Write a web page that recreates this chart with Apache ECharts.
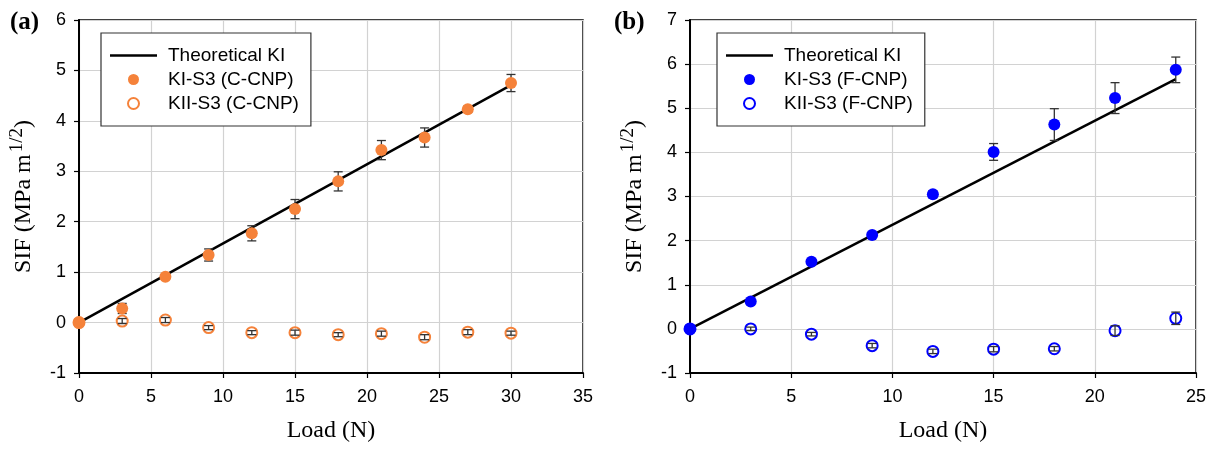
<!DOCTYPE html>
<html>
<head>
<meta charset="utf-8">
<script src="https://cdn.jsdelivr.net/npm/echarts@6/dist/echarts.min.js"></script>
<style>
html,body{margin:0;padding:0;background:#fff;}
#c{width:1219px;height:449px;}
</style>
</head>
<body>
<div id="c"></div>
<script>
// ---- data (panel a) ----
const loadA = [0, 3, 6, 9, 12, 15, 18, 21, 24, 27, 30];
const kiA = [0, 0.28, 0.91, 1.34, 1.77, 2.25, 2.80, 3.42, 3.67, 4.23, 4.75];
const kiAErr = [0, 0.10, 0.05, 0.12, 0.15, 0.19, 0.19, 0.19, 0.19, 0.06, 0.17];
const kiiA = [0, 0.03, 0.05, -0.10, -0.20, -0.20, -0.24, -0.22, -0.29, -0.19, -0.21];
const kiiAErr = [0, 0.05, 0.05, 0.04, 0.04, 0.05, 0.04, 0.05, 0.05, 0.05, 0.04];
const theoryAx = [0, 30];
const theoryAy = [0, 4.71];
// ---- data (panel b) ----
const loadB = [0, 3, 6, 9, 12, 15, 18, 21, 24];
const kiB = [0, 0.62, 1.52, 2.13, 3.05, 4.01, 4.63, 5.23, 5.87];
const kiBErr = [0, 0.05, 0.05, 0.05, 0.08, 0.19, 0.36, 0.35, 0.29];
const kiiB = [0, 0.00, -0.12, -0.38, -0.51, -0.46, -0.45, -0.04, 0.24];
const kiiBErr = [0, 0.04, 0.04, 0.05, 0.05, 0.06, 0.05, 0.11, 0.14];
const theoryBx = [0, 24];
const theoryBy = [0, 5.66];
// ---- labels ----
const xName = 'Load (N)';
const legendA = ['Theoretical KI', 'KI-S3 (C-CNP)', 'KII-S3 (C-CNP)'];
const legendB = ['Theoretical KI', 'KI-S3 (F-CNP)', 'KII-S3 (F-CNP)'];
const panelLabels = ['(a)', '(b)'];

const ORANGE = '#F5823A';
const BLUE = '#0000FF';
const SANS = 'Liberation Sans, Arial, sans-serif';
const SERIF = 'Liberation Serif, Times New Roman, serif';

const zip2 = (xs, ys) => xs.map((x, i) => [x, ys[i]]);
const zip3 = (xs, ys, es) => xs.map((x, i) => [x, ys[i], es[i]]).filter(d => d[2] > 0);

function errRender(params, api) {
  const x = api.value(0), y = api.value(1), e = api.value(2);
  const t = api.coord([x, y + e]), b = api.coord([x, y - e]);
  const w = 4.5;
  const st = {stroke: '#333', lineWidth: 1.3};
  return {type: 'group', children: [
    {type: 'line', shape: {x1: t[0], y1: t[1], x2: b[0], y2: b[1]}, style: st},
    {type: 'line', shape: {x1: t[0] - w, y1: t[1], x2: t[0] + w, y2: t[1]}, style: st},
    {type: 'line', shape: {x1: b[0] - w, y1: b[1], x2: b[0] + w, y2: b[1]}, style: st}
  ]};
}

function xAxisCfg(gi, max) {
  return {
    gridIndex: gi, type: 'value', min: 0, max: max, interval: 5,
    name: xName, nameLocation: 'middle', nameGap: 46,
    nameTextStyle: {fontFamily: SERIF, fontSize: 24, color: '#000'},
    axisLine: {show: true, onZero: false, lineStyle: {color: '#000', width: 2}},
    axisTick: {show: true, length: 5, lineStyle: {color: '#000', width: 1.2}},
    axisLabel: {fontFamily: SANS, fontSize: 18, color: '#000', margin: 15},
    splitLine: {show: true, lineStyle: {color: '#d2d2d2', width: 1.2}}
  };
}
function yAxisCfg(gi, max) {
  return {
    gridIndex: gi, type: 'value', min: -1, max: max, interval: 1,
    name: '{a|SIF (MPa m}{s|1/2}{a|)}', nameLocation: 'middle', nameGap: 40, nameRotate: 90,
    nameTextStyle: {
      rich: {
        a: {fontFamily: SERIF, fontSize: 24, color: '#000'},
        s: {fontFamily: SERIF, fontSize: 19, color: '#000', padding: [0, 0, 12, 2]}
      }
    },
    axisLine: {show: true, onZero: false, lineStyle: {color: '#000', width: 2}},
    axisTick: {show: true, length: 5, lineStyle: {color: '#000', width: 1.2}},
    axisLabel: {fontFamily: SANS, fontSize: 18, color: '#000', margin: 13},
    splitLine: {show: true, lineStyle: {color: '#d2d2d2', width: 1.2}}
  };
}
function legendCfg(names, color, left) {
  return {
    orient: 'vertical', left: left, top: 33,
    backgroundColor: '#fff', borderColor: '#333', borderWidth: 1.2,
    padding: [13, 12, 13, 9], itemGap: 5, itemWidth: 47, itemHeight: 11,
    textStyle: {fontFamily: SANS, fontSize: 19, color: '#000', padding: [0, 0, 0, 6]},
    data: [
      {name: names[0], icon: 'path://M0,0 L47,0 L47,2.5 L0,2.5 Z', itemStyle: {color: '#000'}},
      {name: names[1], icon: 'circle', itemStyle: {color: color}},
      {name: names[2], icon: 'circle', itemStyle: {color: 'rgba(255,255,255,0)', borderColor: color, borderWidth: 2}}
    ],
    selectedMode: false
  };
}
function panelSeries(gi, names, color, load, ki, kiE, kii, kiiE, tx, ty) {
  return [
    {type: 'line', name: names[0], xAxisIndex: gi, yAxisIndex: gi, data: zip2(tx, ty),
     symbol: 'none', lineStyle: {color: '#000', width: 2.5}, itemStyle: {color: '#000'}, z: 2, silent: true},
    {type: 'custom', xAxisIndex: gi, yAxisIndex: gi, renderItem: errRender, data: zip3(load, ki, kiE), z: 3, silent: true},
    {type: 'custom', xAxisIndex: gi, yAxisIndex: gi, renderItem: errRender, data: zip3(load, kii, kiiE), z: 5, silent: true},
    {type: 'scatter', name: names[2], xAxisIndex: gi, yAxisIndex: gi, data: zip2(load, kii),
     symbol: 'circle', symbolSize: 11,
     itemStyle: {color: 'rgba(255,255,255,0)', borderColor: color, borderWidth: 2, opacity: 1}, z: 4, silent: true},
    {type: 'scatter', name: names[1], xAxisIndex: gi, yAxisIndex: gi, data: zip2(load, ki),
     symbol: 'circle', symbolSize: 12, itemStyle: {color: color, opacity: 1}, z: 4, silent: true}
  ];
}

const chart = echarts.init(document.getElementById('c'), null, {renderer: 'canvas'});
chart.setOption({
  animation: false,
  backgroundColor: '#fff',
  title: [
    {text: panelLabels[0], left: 5, top: 5, textStyle: {fontFamily: SERIF, fontWeight: 'bold', fontSize: 25, color: '#000'}},
    {text: panelLabels[1], left: 609, top: 5, textStyle: {fontFamily: SERIF, fontWeight: 'bold', fontSize: 25, color: '#000'}}
  ],
  grid: [
    {left: 79, top: 20, width: 504, height: 353, show: true, borderColor: '#000', borderWidth: 1.5, backgroundColor: 'transparent'},
    {left: 690, top: 20, width: 506, height: 353, show: true, borderColor: '#000', borderWidth: 1.5, backgroundColor: 'transparent'}
  ],
  xAxis: [xAxisCfg(0, 35), xAxisCfg(1, 25)],
  yAxis: [yAxisCfg(0, 6), yAxisCfg(1, 7)],
  legend: [legendCfg(legendA, ORANGE, 101), legendCfg(legendB, BLUE, 717)],
  series: [].concat(
    panelSeries(0, legendA, ORANGE, loadA, kiA, kiAErr, kiiA, kiiAErr, theoryAx, theoryAy),
    panelSeries(1, legendB, BLUE, loadB, kiB, kiBErr, kiiB, kiiBErr, theoryBx, theoryBy)
  )
});
</script>
</body>
</html>
